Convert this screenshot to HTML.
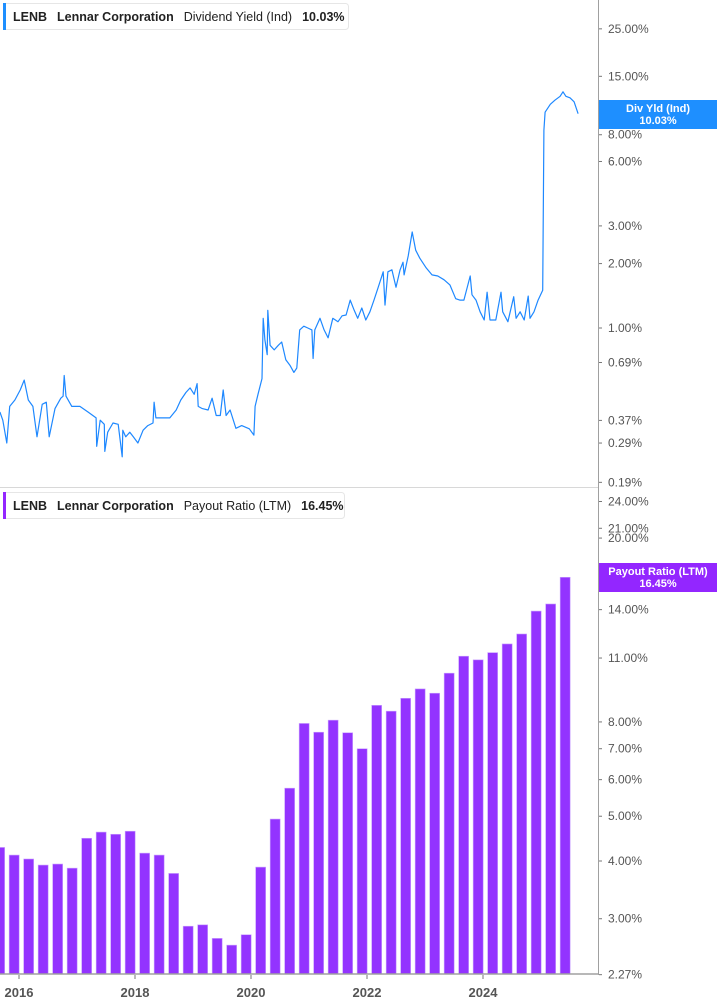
<!DOCTYPE html>
<html><head><meta charset="utf-8"><style>
body{margin:0;background:#fff;font-family:"Liberation Sans",sans-serif;}
svg{display:block}
</style></head><body>
<svg id="c" width="717" height="1005" viewBox="0 0 717 1005">
<g id="grid"></g>
<g id="bars"></g>
<g id="line"></g>
<g id="axes"></g>
</svg>
<script>
const yieldDates=[2015.67,2015.72,2015.79,2015.84,2015.93,2016.02,2016.09,2016.16,2016.24,2016.31,2016.40,2016.47,2016.52,2016.62,2016.72,2016.76,2016.78,2016.81,2016.91,2017.05,2017.19,2017.33,2017.34,2017.40,2017.47,2017.48,2017.53,2017.62,2017.71,2017.78,2017.79,2017.84,2017.91,2017.97,2018.05,2018.14,2018.22,2018.31,2018.33,2018.36,2018.48,2018.60,2018.71,2018.79,2018.88,2018.95,2019.02,2019.07,2019.09,2019.16,2019.26,2019.33,2019.40,2019.47,2019.52,2019.57,2019.64,2019.74,2019.84,2019.97,2020.05,2020.07,2020.12,2020.19,2020.21,2020.24,2020.28,2020.29,2020.33,2020.40,2020.47,2020.53,2020.60,2020.67,2020.74,2020.79,2020.84,2020.91,2020.98,2021.05,2021.07,2021.10,2021.19,2021.26,2021.33,2021.41,2021.50,2021.57,2021.64,2021.71,2021.78,2021.84,2021.91,2021.98,2022.05,2022.12,2022.19,2022.28,2022.31,2022.36,2022.43,2022.50,2022.57,2022.62,2022.64,2022.71,2022.78,2022.84,2022.91,2023.02,2023.12,2023.22,2023.33,2023.43,2023.53,2023.60,2023.67,2023.78,2023.81,2023.88,2023.95,2024.02,2024.07,2024.12,2024.22,2024.31,2024.34,2024.43,2024.53,2024.57,2024.64,2024.71,2024.78,2024.81,2024.88,2024.95,2025.03,2025.05,2025.07,2025.16,2025.24,2025.33,2025.38,2025.43,2025.50,2025.57,2025.64];
const yieldValues=[0.405,0.371,0.29,0.43,0.461,0.513,0.571,0.461,0.43,0.31,0.44,0.45,0.31,0.42,0.47,0.48,0.60,0.48,0.43,0.43,0.405,0.38,0.28,0.371,0.355,0.265,0.326,0.36,0.355,0.25,0.333,0.31,0.326,0.31,0.29,0.333,0.35,0.36,0.45,0.38,0.38,0.38,0.414,0.461,0.50,0.525,0.49,0.55,0.43,0.42,0.414,0.47,0.39,0.39,0.513,0.39,0.414,0.34,0.35,0.338,0.316,0.43,0.49,0.58,1.11,0.88,0.75,1.21,0.83,0.79,0.83,0.86,0.71,0.67,0.62,0.65,0.98,1.02,1.0,0.98,0.72,0.98,1.11,0.98,0.90,1.11,1.07,1.14,1.15,1.35,1.21,1.11,1.24,1.09,1.19,1.35,1.54,1.83,1.28,1.83,1.87,1.55,1.87,2.03,1.77,2.17,2.81,2.31,2.12,1.91,1.77,1.75,1.68,1.59,1.37,1.35,1.35,1.75,1.43,1.35,1.19,1.09,1.47,1.09,1.09,1.47,1.19,1.07,1.40,1.11,1.19,1.09,1.41,1.11,1.19,1.35,1.50,8.4,10.2,11.1,11.6,12.1,12.7,12.1,11.9,11.4,10.03];
const payoutQuarters=["2015-08","2015-11","2016-02","2016-05","2016-08","2016-11","2017-02","2017-05","2017-08","2017-11","2018-02","2018-05","2018-08","2018-11","2019-02","2019-05","2019-08","2019-11","2020-02","2020-05","2020-08","2020-11","2021-02","2021-05","2021-08","2021-11","2022-02","2022-05","2022-08","2022-11","2023-02","2023-05","2023-08","2023-11","2024-02","2024-05","2024-08","2024-11","2025-02","2025-05"];
const payoutValues=[4.28,4.12,4.04,3.92,3.94,3.86,4.48,4.62,4.57,4.64,4.16,4.12,3.76,2.89,2.91,2.72,2.63,2.77,3.88,4.93,5.75,7.94,7.6,8.07,7.58,7.0,8.69,8.44,9.0,9.43,9.23,10.2,11.1,10.9,11.3,11.8,12.4,13.9,14.4,16.45];
const topTicks=[25,15,8,6,3,2,1,0.69,0.37,0.29,0.19];
const botTicks=[24,21,20,14,11,8,7,6,5,4,3,2.27];
const xTicks=[2016,2018,2020,2022,2024];

const NS="http://www.w3.org/2000/svg";
function mk(tag,attrs,parent){const e=document.createElementNS(NS,tag);for(const k in attrs)e.setAttribute(k,attrs[k]);parent.appendChild(e);return e;}
const xS=t=>19+(t-2016)*58;
const yTop=v=>328-214*Math.log10(v);
const yBot=v=>861-462*Math.log10(v/4);
const qDate=s=>{const p=s.split("-");return +p[0]+(+p[1])/12;};
const svg=document.getElementById('c');
const gBars=document.getElementById('bars'),gLine=document.getElementById('line'),gAx=document.getElementById('axes');

// bars
payoutValues.forEach((v,i)=>{
  const cx=xS(qDate(payoutQuarters[i]));
  const y=yBot(v);
  const r=mk('rect',{x:cx-5,y:y,width:10,height:974-y,fill:'#9333ff',stroke:'#c9a0ff','stroke-width':0.6},gBars);
  
  
});
// line
let d="";
yieldDates.forEach((t,i)=>{d+=(i?"L":"M")+xS(t).toFixed(1)+","+yTop(yieldValues[i]).toFixed(1);});
const ln=mk('path',{d:d,fill:'none',stroke:'#1e88ff','stroke-width':1.2,'stroke-linejoin':'round'},gLine);



// axes lines
let a=mk('line',{x1:0,y1:487.5,x2:598,y2:487.5,stroke:'#d8d8d8','stroke-width':1},gAx);

a=mk('line',{x1:0,y1:974,x2:598,y2:974,stroke:'#a0a0a0','stroke-width':1.5},gAx);

a=mk('line',{x1:598.5,y1:0,x2:598.5,y2:975,stroke:'#a0a0a0','stroke-width':1},gAx);


function tick(y,label,name){
  const tm=mk('line',{x1:599,y1:y,x2:602,y2:y,stroke:'#777','stroke-width':1},gAx);
  
  const tx=mk('text',{x:608,y:y+4,'font-size':12,fill:'#555'},gAx);
  tx.textContent=label;
  
}
topTicks.forEach(v=>tick(yTop(v),v.toFixed(2)+"%","yield-tick-label"));
botTicks.forEach(v=>tick(yBot(v),v.toFixed(2)+"%","payout-tick-label"));
xTicks.forEach(t=>{
  const x=xS(t);
  const tm=mk('line',{x1:x,y1:975,x2:x,y2:979,stroke:'#777','stroke-width':1},gAx);
  
  const tx=mk('text',{x:x,y:997,'font-size':13,'font-weight':'bold',fill:'#555','text-anchor':'middle'},gAx);
  tx.textContent=t;
  
});

// price labels
function priceTag(y,h,color,l1,l2,name){
  const g=mk('g',{},gAx);
  
  mk('rect',{x:599,y:y,width:118,height:h,fill:color},g);
  const t1=mk('text',{x:658,y:y+12,'font-size':11,'font-weight':'bold',fill:'#fff','text-anchor':'middle'},g);t1.textContent=l1;
  const t2=mk('text',{x:658,y:y+24,'font-size':11,'font-weight':'bold',fill:'#fff','text-anchor':'middle'},g);t2.textContent=l2;
}
priceTag(100,29,'#1e8fff','Div Yld (Ind)','10.03%','yield-price-tag');
priceTag(563,29,'#9326ff','Payout Ratio (LTM)','16.45%','payout-price-tag');

// legends
function legend(y,w,color,metric,val,name){
  const g=mk('g',{},gAx);
  
  mk('rect',{x:3.5,y:y+0.5,width:w,height:26,rx:3,fill:'#fff',stroke:'#e6e6e6'},g);
  mk('rect',{x:3,y:y,width:3,height:27,fill:color},g);
  const t=mk('text',{x:13,y:y+18,'font-size':12.5,fill:'#222'},g);
  t.innerHTML='<tspan font-weight="bold">LENB</tspan><tspan dx="10" font-weight="bold">Lennar Corporation</tspan><tspan dx="10">'+metric+'</tspan><tspan dx="10" font-weight="bold">'+val+'</tspan>';
}
legend(3,345,'#1e8fff','Dividend Yield (Ind)','10.03%','yield-legend');
legend(492,341,'#9326ff','Payout Ratio (LTM)','16.45%','payout-legend');
</script>
</body></html>
